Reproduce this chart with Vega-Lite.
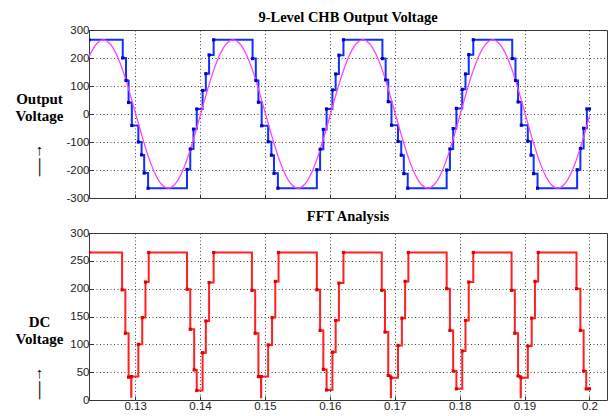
{
  "$schema": "https://vega.github.io/schema/vega-lite/v6.json",
  "background": "white",
  "padding": {"left": 14, "top": 9, "right": 2, "bottom": 2},
  "config": {
    "view": {"stroke": "#3a3a3a", "strokeWidth": 1},
    "font": "Liberation Sans",
    "axis": {
      "grid": true, "gridColor": "#333333", "gridDash": [1, 2.5], "gridWidth": 1, "gridOpacity": 0.9,
      "domain": false, "ticks": true, "tickColor": "#333333", "tickSize": -4,
      "labelFont": "Liberation Sans Narrow, Liberation Sans", "labelFontSize": 11.5, "labelColor": "#222222", "labelPadding": 4
    },
    "title": {"font": "Liberation Serif", "fontSize": 14.5, "fontWeight": "bold", "color": "#000000"},
    "concat": {"spacing": 4}
  },
  "datasets": {
    "stair": [
      {"t": 0.1229, "v": 265}, {"t": 0.1281, "v": 200}, {"t": 0.1286, "v": 120}, {"t": 0.1290, "v": 41}, {"t": 0.1295, "v": -41},
      {"t": 0.1305, "v": -100}, {"t": 0.1310, "v": -146}, {"t": 0.1314, "v": -211}, {"t": 0.1320, "v": -265},
      {"t": 0.1380, "v": -198}, {"t": 0.1385, "v": -125}, {"t": 0.1390, "v": -54}, {"t": 0.1395, "v": 18},
      {"t": 0.1404, "v": 84}, {"t": 0.1409, "v": 144}, {"t": 0.1414, "v": 211}, {"t": 0.1421, "v": 265},
      {"t": 0.1481, "v": 198}, {"t": 0.1486, "v": 120}, {"t": 0.1490, "v": 42}, {"t": 0.1495, "v": -42},
      {"t": 0.1505, "v": -99}, {"t": 0.1510, "v": -147}, {"t": 0.1514, "v": -212}, {"t": 0.1520, "v": -265},
      {"t": 0.1580, "v": -199}, {"t": 0.1585, "v": -126}, {"t": 0.1590, "v": -55}, {"t": 0.1595, "v": 18},
      {"t": 0.1604, "v": 86}, {"t": 0.1609, "v": 143}, {"t": 0.1614, "v": 210}, {"t": 0.1621, "v": 265},
      {"t": 0.1681, "v": 198}, {"t": 0.1686, "v": 122}, {"t": 0.1690, "v": 44}, {"t": 0.1695, "v": -40},
      {"t": 0.1705, "v": -98}, {"t": 0.1710, "v": -147}, {"t": 0.1714, "v": -213}, {"t": 0.1720, "v": -265},
      {"t": 0.1780, "v": -200}, {"t": 0.1785, "v": -125}, {"t": 0.1790, "v": -52}, {"t": 0.1795, "v": 20},
      {"t": 0.1804, "v": 88}, {"t": 0.1809, "v": 143}, {"t": 0.1814, "v": 212}, {"t": 0.1821, "v": 265},
      {"t": 0.1881, "v": 198}, {"t": 0.1886, "v": 120}, {"t": 0.1890, "v": 43}, {"t": 0.1895, "v": -40},
      {"t": 0.1905, "v": -97}, {"t": 0.1910, "v": -147}, {"t": 0.1914, "v": -213}, {"t": 0.1920, "v": -265},
      {"t": 0.1981, "v": -199}, {"t": 0.1986, "v": -123}, {"t": 0.1991, "v": -51}, {"t": 0.1996, "v": 18},
      {"t": 0.2000, "v": 18}
    ],
    "sine": [
      {"t": 0.1229, "v": 204}, {"t": 0.1231, "v": 214.4}, {"t": 0.1241, "v": 252},
      {"t": 0.1251, "v": 265}, {"t": 0.1261, "v": 252}, {"t": 0.1271, "v": 214.4}, {"t": 0.1281, "v": 155.8}, {"t": 0.1291, "v": 81.9},
      {"t": 0.1301, "v": 0}, {"t": 0.1311, "v": -81.9}, {"t": 0.1321, "v": -155.8}, {"t": 0.1331, "v": -214.4}, {"t": 0.1341, "v": -252},
      {"t": 0.1351, "v": -265}, {"t": 0.1361, "v": -252}, {"t": 0.1371, "v": -214.4}, {"t": 0.1381, "v": -155.8}, {"t": 0.1391, "v": -81.9},
      {"t": 0.1401, "v": 0}, {"t": 0.1411, "v": 81.9}, {"t": 0.1421, "v": 155.8}, {"t": 0.1431, "v": 214.4}, {"t": 0.1441, "v": 252},
      {"t": 0.1451, "v": 265}, {"t": 0.1461, "v": 252}, {"t": 0.1471, "v": 214.4}, {"t": 0.1481, "v": 155.8}, {"t": 0.1491, "v": 81.9},
      {"t": 0.1501, "v": 0}, {"t": 0.1511, "v": -81.9}, {"t": 0.1521, "v": -155.8}, {"t": 0.1531, "v": -214.4}, {"t": 0.1541, "v": -252},
      {"t": 0.1551, "v": -265}, {"t": 0.1561, "v": -252}, {"t": 0.1571, "v": -214.4}, {"t": 0.1581, "v": -155.8}, {"t": 0.1591, "v": -81.9},
      {"t": 0.1601, "v": 0}, {"t": 0.1611, "v": 81.9}, {"t": 0.1621, "v": 155.8}, {"t": 0.1631, "v": 214.4}, {"t": 0.1641, "v": 252},
      {"t": 0.1651, "v": 265}, {"t": 0.1661, "v": 252}, {"t": 0.1671, "v": 214.4}, {"t": 0.1681, "v": 155.8}, {"t": 0.1691, "v": 81.9},
      {"t": 0.1701, "v": 0}, {"t": 0.1711, "v": -81.9}, {"t": 0.1721, "v": -155.8}, {"t": 0.1731, "v": -214.4}, {"t": 0.1741, "v": -252},
      {"t": 0.1751, "v": -265}, {"t": 0.1761, "v": -252}, {"t": 0.1771, "v": -214.4}, {"t": 0.1781, "v": -155.8}, {"t": 0.1791, "v": -81.9},
      {"t": 0.1801, "v": 0}, {"t": 0.1811, "v": 81.9}, {"t": 0.1821, "v": 155.8}, {"t": 0.1831, "v": 214.4}, {"t": 0.1841, "v": 252},
      {"t": 0.1851, "v": 265}, {"t": 0.1861, "v": 252}, {"t": 0.1871, "v": 214.4}, {"t": 0.1881, "v": 155.8}, {"t": 0.1891, "v": 81.9},
      {"t": 0.1901, "v": 0}, {"t": 0.1911, "v": -81.9}, {"t": 0.1921, "v": -155.8}, {"t": 0.1931, "v": -214.4}, {"t": 0.1941, "v": -252},
      {"t": 0.1951, "v": -265}, {"t": 0.1961, "v": -252}, {"t": 0.1971, "v": -214.4}, {"t": 0.1981, "v": -155.8}, {"t": 0.1991, "v": -81.9},
      {"t": 0.2000, "v": -8}
    ],
    "dc": [
      {"t": 0.1229, "v": 265}, {"t": 0.1280, "v": 198}, {"t": 0.1285, "v": 120}, {"t": 0.1290, "v": 41}, {"t": 0.1294, "v": 6}, {"t": 0.12943, "v": 42},
      {"t": 0.1305, "v": 100}, {"t": 0.1311, "v": 148}, {"t": 0.1316, "v": 212}, {"t": 0.1321, "v": 265},
      {"t": 0.1380, "v": 199}, {"t": 0.1385, "v": 127}, {"t": 0.1391, "v": 54}, {"t": 0.1395, "v": 17},
      {"t": 0.1404, "v": 85}, {"t": 0.1409, "v": 142}, {"t": 0.1414, "v": 211}, {"t": 0.1421, "v": 265},
      {"t": 0.1480, "v": 197}, {"t": 0.1485, "v": 120}, {"t": 0.1490, "v": 42}, {"t": 0.1494, "v": 5}, {"t": 0.14943, "v": 42},
      {"t": 0.1505, "v": 99}, {"t": 0.1511, "v": 148}, {"t": 0.1516, "v": 213}, {"t": 0.1521, "v": 265},
      {"t": 0.1580, "v": 198}, {"t": 0.1585, "v": 125}, {"t": 0.1590, "v": 55}, {"t": 0.1595, "v": 18},
      {"t": 0.1604, "v": 86}, {"t": 0.1609, "v": 143}, {"t": 0.1614, "v": 210}, {"t": 0.1621, "v": 265},
      {"t": 0.1680, "v": 197}, {"t": 0.1685, "v": 122}, {"t": 0.1690, "v": 44}, {"t": 0.1694, "v": 5}, {"t": 0.16943, "v": 40},
      {"t": 0.1705, "v": 98}, {"t": 0.1711, "v": 147}, {"t": 0.1716, "v": 213}, {"t": 0.1721, "v": 265},
      {"t": 0.1780, "v": 200}, {"t": 0.1785, "v": 125}, {"t": 0.1790, "v": 52}, {"t": 0.1795, "v": 20},
      {"t": 0.1804, "v": 88}, {"t": 0.1809, "v": 143}, {"t": 0.1814, "v": 212}, {"t": 0.1821, "v": 265},
      {"t": 0.1880, "v": 197}, {"t": 0.1885, "v": 120}, {"t": 0.1890, "v": 43}, {"t": 0.1894, "v": 5}, {"t": 0.18943, "v": 40},
      {"t": 0.1905, "v": 97}, {"t": 0.1911, "v": 147}, {"t": 0.1916, "v": 213}, {"t": 0.1921, "v": 265},
      {"t": 0.1980, "v": 200}, {"t": 0.1986, "v": 125}, {"t": 0.1991, "v": 52}, {"t": 0.1995, "v": 20},
      {"t": 0.2000, "v": 20}
    ]
  },
  "vconcat": [
    {
      "title": {"text": "9-Level CHB Output Voltage", "offset": -1},
      "width": 518,
      "height": 168,
      "encoding": {
        "x": {"field": "t", "type": "quantitative",
          "scale": {"domain": [0.1229, 0.2027], "nice": false, "zero": false},
          "axis": {"values": [0.13, 0.14, 0.15, 0.16, 0.17, 0.18, 0.19, 0.2], "labels": false, "title": null}},
        "y": {"field": "v", "type": "quantitative",
          "scale": {"domain": [-300, 300], "nice": false},
          "axis": {"values": [-300, -200, -100, 0, 100, 200, 300], "labelExpr": "'' + datum.value",
            "title": ["Output", "Voltage", "\u2800", "↑", "│"], "titleAngle": 0, "titleAlign": "center", "titleBaseline": "top",
            "titleX": -50, "titleY": 61, "titleFont": "Liberation Serif", "titleFontSize": 15, "titleFontWeight": "bold",
            "titleLineHeight": 17, "titleColor": "#000000"}}
      },
      "layer": [
        {"data": {"name": "stair"}, "mark": {"type": "line", "interpolate": "step-after", "color": "#1030ff", "strokeWidth": 2, "clip": true}},
        {"data": {"name": "sine"}, "mark": {"type": "line", "interpolate": "monotone", "color": "#ff40ff", "strokeWidth": 1.3, "clip": true}},
        {"data": {"name": "stair"}, "mark": {"type": "square", "size": 10, "color": "#0000c8", "opacity": 1, "clip": true}}
      ]
    },
    {
      "title": {"text": "FFT Analysis", "offset": 2.5},
      "width": 518,
      "height": 167,
      "encoding": {
        "x": {"field": "t", "type": "quantitative",
          "scale": {"domain": [0.1229, 0.2027], "nice": false, "zero": false},
          "axis": {"values": [0.13, 0.14, 0.15, 0.16, 0.17, 0.18, 0.19, 0.2], "labelExpr": "'' + datum.value", "title": null}},
        "y": {"field": "v", "type": "quantitative",
          "scale": {"domain": [0, 300], "nice": false},
          "axis": {"values": [0, 50, 100, 150, 200, 250, 300],
            "title": ["DC", "Voltage", "\u2800", "↑", "│"], "titleAngle": 0, "titleAlign": "center", "titleBaseline": "top",
            "titleX": -50, "titleY": 81, "titleFont": "Liberation Serif", "titleFontSize": 15, "titleFontWeight": "bold",
            "titleLineHeight": 17, "titleColor": "#000000"}}
      },
      "layer": [
        {"data": {"name": "dc"}, "mark": {"type": "line", "interpolate": "step-after", "color": "#ff2020", "strokeWidth": 2, "clip": true}},
        {"data": {"name": "dc"}, "transform": [{"filter": "datum.v > 10"}], "mark": {"type": "square", "size": 10, "color": "#e00000", "opacity": 1, "clip": true}}
      ]
    }
  ]
}
